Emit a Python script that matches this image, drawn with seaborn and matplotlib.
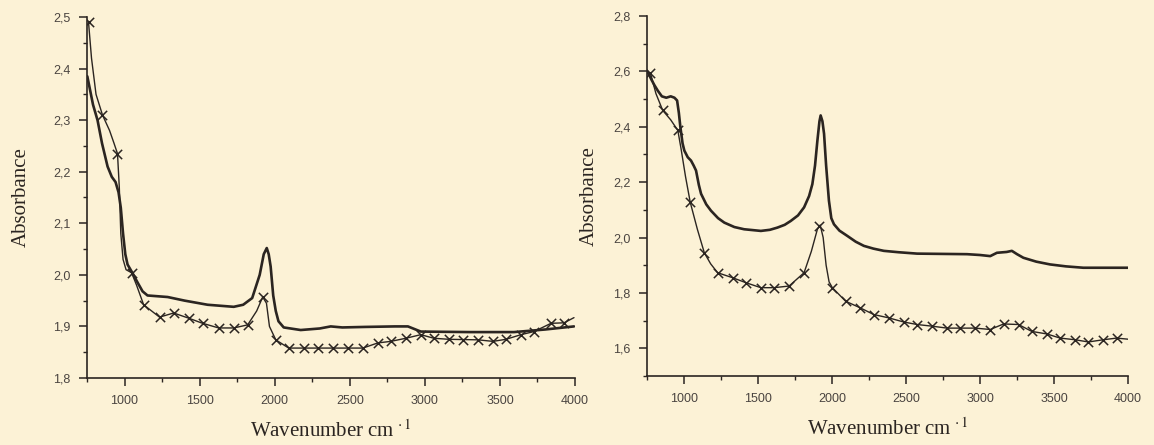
import matplotlib
matplotlib.use("Agg")
import matplotlib.pyplot as plt
import seaborn as sns
from matplotlib.ticker import MultipleLocator, FuncFormatter

# ---- left spectrum ----
# thick trace (no markers)
left_line_x = [752, 790, 820, 850, 887, 915, 940, 960, 975, 990, 1005, 1020, 1050, 1087, 1120, 1153,
               1287, 1400, 1553, 1727, 1790, 1850, 1900, 1927, 1947, 1960, 1973, 1990, 2007, 2025,
               2060, 2173, 2300, 2373, 2450, 2600, 2800, 2887, 2930, 2973, 3300, 3593, 3800, 3993]
left_line_y = [2.385, 2.33, 2.30, 2.255, 2.21, 2.19, 2.18, 2.16, 2.13, 2.08, 2.04, 2.02, 2.005, 1.985, 1.968, 1.96,
               1.957, 1.95, 1.942, 1.938, 1.942, 1.955, 2.0, 2.04, 2.052, 2.04, 2.016, 1.96, 1.93, 1.91,
               1.898, 1.893, 1.896, 1.90, 1.898, 1.899, 1.90, 1.90, 1.895, 1.89, 1.889, 1.889, 1.894, 1.90]

# thin trace carrying the crosses
left_thin_x = [760, 780, 810, 853, 900, 930, 953, 965, 975, 990, 1010, 1047, 1080, 1127, 1233, 1327,
               1427, 1520, 1627, 1727, 1820, 1880, 1920, 1945, 1965, 2007, 2093, 2587, 2687, 2773,
               2873, 2973, 3060, 3160, 3353, 3453, 3540, 3640, 3727, 3840, 3927, 3993]
left_thin_y = [2.49, 2.42, 2.35, 2.31, 2.28, 2.255, 2.235, 2.17, 2.08, 2.03, 2.01, 2.004, 1.98, 1.942, 1.918, 1.926,
               1.916, 1.906, 1.897, 1.897, 1.903, 1.93, 1.957, 1.945, 1.90, 1.874, 1.858, 1.858, 1.868, 1.871,
               1.877, 1.884, 1.877, 1.875, 1.874, 1.871, 1.875, 1.884, 1.890, 1.906, 1.907, 1.917]

# cross positions
left_mark_x = [760, 853, 953, 1047, 1127, 1233, 1327, 1427, 1520, 1627, 1727, 1820, 1920, 2007,
               2093, 2193, 2287, 2387, 2487, 2587, 2687, 2773, 2873, 2973, 3060, 3160, 3253, 3353,
               3453, 3540, 3640, 3727, 3840, 3927]
left_mark_y = [2.49, 2.31, 2.235, 2.004, 1.942, 1.918, 1.926, 1.916, 1.906, 1.897, 1.897, 1.903, 1.957, 1.874,
               1.858, 1.858, 1.858, 1.858, 1.858, 1.858, 1.868, 1.871, 1.877, 1.884, 1.877, 1.875, 1.874, 1.874,
               1.871, 1.875, 1.884, 1.890, 1.906, 1.907]

# ---- right spectrum ----
right_line_x = [752, 780, 800, 823, 850, 880, 910, 935, 953, 965, 975, 990, 1002, 1025, 1047, 1065, 1081,
                1100, 1115, 1150, 1182, 1230, 1272, 1340, 1406, 1519, 1580, 1631, 1680, 1721, 1770, 1811,
                1845, 1867, 1885, 1901, 1915, 1923, 1935, 1946, 1960, 1979, 1995, 2013, 2050, 2103, 2160,
                2215, 2280, 2350, 2450, 2575, 2912, 3000, 3069, 3114, 3180, 3215, 3250, 3293, 3380, 3473,
                3580, 3698, 4000]
right_line_y = [2.60, 2.57, 2.55, 2.53, 2.51, 2.505, 2.51, 2.505, 2.495, 2.45, 2.40, 2.34, 2.314, 2.29, 2.278,
                2.26, 2.242, 2.19, 2.158, 2.12, 2.097, 2.07, 2.054, 2.038, 2.030, 2.024, 2.028, 2.036, 2.046,
                2.060, 2.08, 2.109, 2.15, 2.193, 2.26, 2.35, 2.42, 2.441, 2.42, 2.375, 2.26, 2.133, 2.07,
                2.048, 2.025, 2.006, 1.985, 1.970, 1.96, 1.952, 1.947, 1.942, 1.940, 1.937, 1.933, 1.945,
                1.948, 1.952, 1.94, 1.927, 1.913, 1.903, 1.896, 1.891, 1.891]

right_thin_x = [773, 810, 856, 910, 958, 980, 1010, 1042, 1090, 1137, 1180, 1227, 1328, 1418, 1519, 1608,
                1710, 1811, 1860, 1901, 1920, 1940, 1960, 1980, 2002, 2092, 2187, 2282, 2383, 2485, 2575,
                2676, 2777, 2867, 2968, 3069, 3159, 3260, 3350, 3451, 3541, 3642, 3732, 3833, 3923, 4000]
right_thin_y = [2.594, 2.52, 2.459, 2.425, 2.387, 2.32, 2.22, 2.127, 2.03, 1.945, 1.905, 1.873, 1.855, 1.837,
                1.819, 1.819, 1.825, 1.873, 1.95, 2.03, 2.045, 2.0, 1.90, 1.84, 1.819, 1.770, 1.747, 1.722,
                1.710, 1.695, 1.686, 1.680, 1.673, 1.673, 1.673, 1.668, 1.688, 1.686, 1.661, 1.652, 1.637,
                1.631, 1.623, 1.631, 1.637, 1.633]

right_mark_x = [773, 856, 958, 1042, 1137, 1227, 1328, 1418, 1519, 1608, 1710, 1811, 1915, 2002, 2092,
                2187, 2282, 2383, 2485, 2575, 2676, 2777, 2867, 2968, 3069, 3159, 3260, 3350, 3451, 3541,
                3642, 3732, 3833, 3923]
right_mark_y = [2.594, 2.459, 2.387, 2.127, 1.945, 1.873, 1.855, 1.837, 1.819, 1.819, 1.825, 1.873, 2.04, 1.819,
                1.770, 1.747, 1.722, 1.710, 1.695, 1.686, 1.680, 1.673, 1.673, 1.673, 1.668, 1.688, 1.686,
                1.661, 1.652, 1.637, 1.631, 1.623, 1.631, 1.637]

bg = "#fcf2d6"
ink = "#2b2521"

sns.set_style("ticks")
plt.rcParams["font.family"] = ["Liberation Sans", "DejaVu Sans"]
plt.rcParams["mathtext.fontset"] = "stix"

fig = plt.figure(figsize=(11.54, 4.45), dpi=100, facecolor=bg)
ax1 = fig.add_axes([0.0754, 0.1506, 0.4229, 0.8112])
ax2 = fig.add_axes([0.5607, 0.1550, 0.4168, 0.8090])

comma = FuncFormatter(lambda v, p: f"{v:.1f}".replace(".", ","))

panels = [
    (ax1, left_line_x, left_line_y, left_thin_x, left_thin_y, left_mark_x, left_mark_y, (1.8, 2.5), 0.1, 0.05, 16),
    (ax2, right_line_x, right_line_y, right_thin_x, right_thin_y, right_mark_x, right_mark_y, (1.5, 2.8), 0.2, 0.1, 10),
]

for ax, lx, ly, tx, ty, mx, my, ylim, ymaj, ymin, ypad in panels:
    ax.set_facecolor(bg)
    sns.lineplot(x=lx, y=ly, ax=ax, color=ink, lw=1.9)
    sns.lineplot(x=tx, y=ty, ax=ax, color=ink, lw=1.0)
    sns.scatterplot(x=mx, y=my, ax=ax, color=ink, marker="x", s=45, linewidth=1.1)
    ax.set_xlim(750, 4000)
    ax.set_ylim(*ylim)
    ax.xaxis.set_major_locator(MultipleLocator(500))
    ax.xaxis.set_minor_locator(MultipleLocator(250))
    ax.yaxis.set_major_locator(MultipleLocator(ymaj))
    ax.yaxis.set_minor_locator(MultipleLocator(ymin))
    ax.yaxis.set_major_formatter(comma)
    sns.despine(ax=ax)
    for s in ["left", "bottom"]:
        ax.spines[s].set_color(ink)
        ax.spines[s].set_linewidth(1.2)
    ax.tick_params(which="major", direction="out", length=6, width=1.1, color=ink,
                   labelsize=9, labelcolor="#4a4440", pad=6)
    ax.tick_params(which="minor", direction="out", length=3, width=1.0, color=ink)
    ax.set_xlabel(r"Wavenumber cm$^{\,\cdot 1}$", family="Liberation Serif", fontsize=15,
                  color=ink, labelpad=10)
    ax.set_ylabel("Absorbance", family="Liberation Serif", fontsize=15, color=ink, labelpad=ypad)
    ax.set_xticks([1000, 1500, 2000, 2500, 3000, 3500, 4000])

fig.savefig("out.png", dpi=100, facecolor=bg)
